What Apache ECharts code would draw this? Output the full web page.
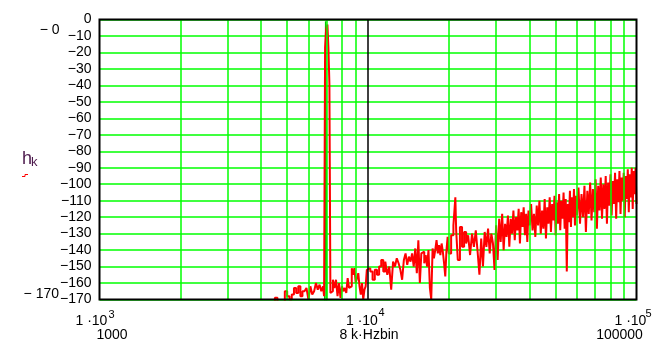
<!DOCTYPE html>
<html><head><meta charset="utf-8">
<script src="https://cdn.jsdelivr.net/npm/echarts@6/dist/echarts.min.js"></script>
<style>html,body{margin:0;padding:0;background:#fff}#c{width:663px;height:343px}</style>
</head><body><div id="c"></div>
<script>
// ---- data (frequency in Hz, level in dB) ----
const lowHz = [4300,4400,4500,4600,4700,4800,4900,5000,5100,5200,5300,5400,5500,5600,5700,5800,5900,6000,6100,6200,6300,6400,6500,6600,6700,6800];
const lowDb = [-180,-176,-169,-175,-178,-172,-165,-168,-170,-167,-163,-166,-162,-168,-165,-166,-163,-170,-162,-167,-165,-160,-164,-161,-165,-162];
const peakHz = [6862,6921,6982,7061,7121,7182,7244];
const peakDb = [-168,-17,-6,-3,-17,-39,-166];
const band1Hz = [7300,7400,7500,7600,7700,7800,7900,8000,8100,8200,8300,8400,8500,8600,8700,8800,8900,9000,9100,9200,9300,9400,9500,9600,9700,9800,9900,10000];
const band1Db = [-165,-158,-163,-158,-168,-160,-169,-162,-165,-163,-166,-157,-163,-162,-151,-155,-151,-160,-157,-154,-162,-167,-160,-170,-164,-162,-152,-151];
const band2Hz = [10200,10400,10600,10800,11000,11200,11400,11600,11800,12000,12200,12400,12600,12800,13000,13200,13400,13600,13800,14000,14200,14400,14600,14800,15000,15200,15400,15600,15800,16000,16200,16400,16600,16800,17000,17200,17400,17600,17800,18000,18200,18400,18600,18800,19000,19200,19400,19600,19800,20000];
const band2Db = [-153,-158,-152,-155,-150,-146,-153,-147,-155,-150,-164,-147,-150,-145,-148,-152,-158,-146,-142,-149,-144,-147,-142,-150,-139,-154,-134,-160,-142,-141,-148,-143,-150,-140,-163,-170,-139,-145,-140,-134,-142,-137,-143,-136,-141,-148,-156,-140,-132,-142];
const band3Hz = [20400,20800,21150,21300,21600,22000,22400,22800,23200,23600,24000,24400,24800,25200,25600,26000,26400,26800,27200,27600,28000,28400,28800,29200,29600,30000,30400,30800,31200,31600,32000,32400,32800,33200,33600,34000,34400,34800,35200,35600,36000,36400,36800,37200,37600,38000,38400,38800,39200,39600,40000];
const band3Db = [-131,-125,-108,-128,-146,-126,-138,-129,-136,-131,-143,-130,-138,-128,-141,-155,-133,-150,-129,-138,-127,-142,-130,-136,-152,-125,-146,-121,-135,-118,-140,-124,-132,-119,-138,-121,-130,-116,-134,-120,-128,-115,-136,-117,-126,-114,-131,-118,-135,-116,-125];
const band4Hz = [40500,41000,41500,42000,42500,43000,43500,44000,44500,45000,45500,46000,46500,47000,47500,48000,48500,49000,49500,50000,50500,51000,51500,52000,52500,53000,53500,54000,54500,55000,55500,56000,56500,57000,57500,58000,58500,59000,59500,60000];
const band4Db = [-112,-128,-118,-132,-113,-125,-110,-130,-116,-127,-109,-133,-114,-124,-108,-129,-112,-122,-107,-131,-111,-124,-106,-128,-110,-121,-105,-127,-109,-153,-112,-123,-104,-126,-108,-120,-103,-125,-107,-119];
const band5Hz = [60800,61600,62400,63200,64000,64800,65600,66400,67200,68000,68800,69600,70400,71200,72000,72800,73600,74400,75200,76000,76800,77600,78400,79200,80000,80800,81600,82400,83200,84000,84800,85600,86400,87200,88000,88800,89600,90400,91200,92000,92800,93600,94400,95200,96000,96800,97600,98400,99200,100000];
const band5Db = [-102,-124,-106,-120,-101,-129,-104,-118,-99,-122,-103,-117,-97,-127,-101,-116,-96,-121,-100,-115,-95,-124,-99,-113,-94,-119,-98,-112,-93,-121,-97,-111,-92,-118,-96,-110,-93,-120,-95,-109,-91,-117,-94,-108,-90,-115,-92,-106,-90,-112];
const greenHz = [6900,6955,7010];
const greenDb = [-175,-1,-175];
const minorGridHz = [2000,3000,4000,5000,6000,7000,8000,9000,20000,30000,40000,50000,60000,70000,80000,90000];
const markerHz = [10000];
const xMin = 1000, xMax = 100000, yMin = -170, yMax = 0, yStep = 10;
const xLabels = [
  {mant:'1 ·10', exp:'3', plain:'1000'},
  {mant:'1 ·10', exp:'4', plain:'8 k·Hzbin'},
  {mant:'1 ·10', exp:'5', plain:'100000'}
];
const yName = {base:'h', sub:'k'};
const limitTop = '− 0', limitBottom = '− 170';

// ---- build ----
const pairs = (xs, ys) => xs.map((x, i) => [x, ys[i]]);
const redData = [].concat(
  pairs(lowHz, lowDb), pairs(peakHz, peakDb), pairs(band1Hz, band1Db),
  pairs(band2Hz, band2Db), pairs(band3Hz, band3Db), pairs(band4Hz, band4Db), pairs(band5Hz, band5Db));
const greenData = pairs(greenHz, greenDb);

const FONT = '"Liberation Sans", Arial, sans-serif';
const G = {left: 99.5, top: 19.5, right: 26.5, bottom: 43.5};
const W = 663, H = 343;
const gw = W - G.left - G.right, gh = H - G.top - G.bottom;

function txt(text, x, y, size, align, color) {
  return {type: 'text', silent: true, z: 50, style: {text, x, y, font: size + 'px ' + FONT,
    textAlign: align, align: align, textVerticalAlign: 'middle', verticalAlign: 'middle', fill: color || '#000'}};
}
const graphics = [
  {type: 'rect', silent: true, z: 100, shape: {x: G.left, y: G.top, width: gw, height: gh},
   style: {fill: 'none', stroke: '#000', lineWidth: 2}},
  txt(limitTop, 59.5, 30, 14, 'right'),
  txt(limitBottom, 59, 294.5, 14, 'right'),
  txt(yName.base, 22, 158.7, 18, 'left', '#4d1a4d'),
  txt(yName.sub, 31, 162, 13, 'left', '#4d1a4d'),
  {type: 'polyline', silent: true, z: 50, shape: {points: [[22, 176.5], [25, 176.5], [25, 174.5], [28, 174.5]]},
   style: {stroke: '#ff0000', lineWidth: 1, fill: 'none'}},
  txt(xLabels[0].mant, 75.5, 321, 14, 'left'), txt(xLabels[0].exp, 108.5, 314.5, 11, 'left'),
  txt(xLabels[0].plain, 112, 335, 14, 'center'),
  txt(xLabels[1].mant, 346, 321, 14, 'left'), txt(xLabels[1].exp, 378.5, 313, 11, 'left'),
  txt(xLabels[1].plain, 369, 335, 14, 'center'),
  txt(xLabels[2].mant, 614.5, 321, 14, 'left'), txt(xLabels[2].exp, 645.5, 313.5, 11, 'left'),
  txt(xLabels[2].plain, 619.5, 335, 14, 'center')
];

const chart = echarts.init(document.getElementById('c'), null, {renderer: 'canvas'});
chart.setOption({
  animation: false,
  backgroundColor: '#ffffff',
  grid: Object.assign({}, G),
  xAxis: {type: 'log', logBase: 10, min: xMin, max: xMax,
    axisLine: {show: false}, axisTick: {show: false}, axisLabel: {show: false}, splitLine: {show: false}},
  yAxis: {type: 'value', min: yMin, max: yMax, interval: yStep,
    axisLine: {show: false}, axisTick: {show: false},
    axisLabel: {color: '#000', fontSize: 14, fontFamily: FONT, margin: 8,
      formatter: v => v < 0 ? '−' + Math.abs(v) : String(v)},
    splitLine: {show: true, lineStyle: {color: '#00ff00', width: 1.5}}},
  series: [
    {type: 'line', z: 2, data: greenData, step: 'end', showSymbol: false, symbol: 'none',
     lineStyle: {color: '#00c800', width: 1.5}, clip: true,
     markLine: {silent: true, symbol: 'none', label: {show: false}, animation: false,
       lineStyle: {color: '#00ff00', width: 1.5, type: 'solid'},
       data: minorGridHz.map(v => ({xAxis: v})).concat(
         markerHz.map(v => ({xAxis: v, lineStyle: {color: '#000000', width: 1.5, type: 'solid'}})))}},
    {type: 'line', z: 3, data: redData, step: 'end', showSymbol: false, symbol: 'none',
     lineStyle: {color: '#ff0000', width: 2}, clip: true}
  ],
  graphic: graphics
});
</script></body></html>
